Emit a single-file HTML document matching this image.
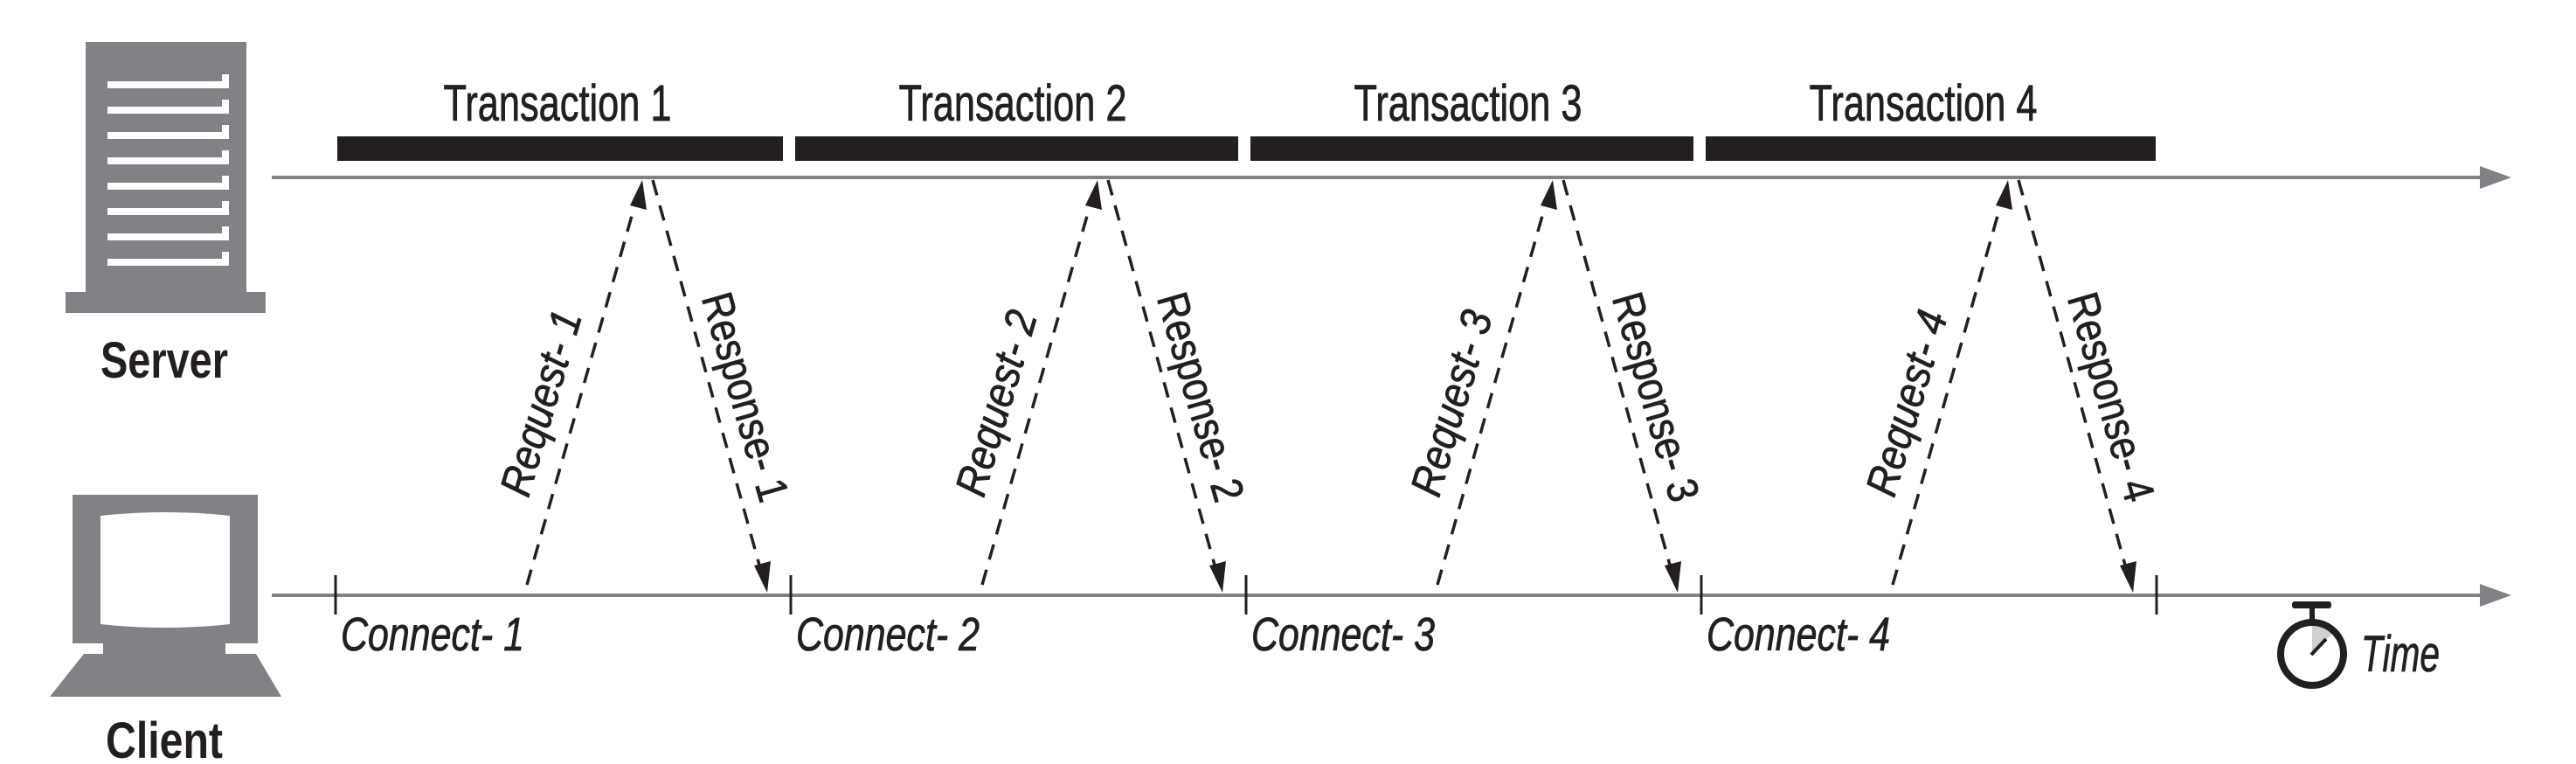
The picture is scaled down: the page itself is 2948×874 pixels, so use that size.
<!DOCTYPE html>
<html><head><meta charset="utf-8"><style>
html,body{margin:0;padding:0;background:#fff;}
svg{display:block}
text{font-family:"Liberation Sans Narrow","Liberation Sans",sans-serif;fill:#231f20}
.w{stroke:#231f20;stroke-width:0.8}
</style></head><body>
<svg width="2948" height="874" viewBox="0 0 2948 874" xmlns="http://www.w3.org/2000/svg">
<!-- Server icon -->
<rect x="98" y="48" width="184" height="288" fill="#808285"/>
<rect x="75" y="334" width="229" height="24" fill="#808285"/>
<g stroke="#fff" stroke-width="8" fill="none">
<polyline points="123,97 258,97 258,85"/>
<polyline points="123,126 258,126 258,114"/>
<polyline points="123,155 258,155 258,143"/>
<polyline points="123,184 258,184 258,172"/>
<polyline points="123,213 258,213 258,201"/>
<polyline points="123,242 258,242 258,230"/>
<polyline points="123,271 258,271 258,259"/>
<polyline points="123,300 258,300 258,288"/>
</g>
<text x="188" y="432" text-anchor="middle" font-size="58" font-weight="bold" textLength="146" lengthAdjust="spacingAndGlyphs">Server</text>
<!-- Client icon -->
<rect x="83" y="566" width="212" height="170" fill="#808285"/>
<path d="M115 590 Q189 582 263 590 L263 714 Q189 722 115 714 Z" fill="#fff"/>
<path d="M118 736 L258 736 L258 748 L293 748 L322 797 L57 797 L96 748 L118 748 Z" fill="#808285"/>
<text x="188" y="867" text-anchor="middle" font-size="58" font-weight="bold" textLength="134" lengthAdjust="spacingAndGlyphs">Client</text>
<!-- timelines -->
<line x1="311" y1="203" x2="2840" y2="203" stroke="#808285" stroke-width="4"/>
<polygon points="2838,190 2874,203 2838,216" fill="#808285"/>
<line x1="311" y1="681" x2="2840" y2="681" stroke="#808285" stroke-width="4"/>
<polygon points="2838,668 2874,681 2838,694" fill="#808285"/>
<!-- bars -->
<rect x="386" y="156" width="510" height="28" fill="#231f20"/>
<rect x="910" y="156" width="507" height="28" fill="#231f20"/>
<rect x="1431" y="156" width="507" height="28" fill="#231f20"/>
<rect x="1952" y="156" width="515" height="28" fill="#231f20"/>
<g font-size="58" text-anchor="middle" class="w">
<text class="w" x="638" y="138" textLength="261" lengthAdjust="spacingAndGlyphs">Transaction 1</text>
<text class="w" x="1159" y="138" textLength="261" lengthAdjust="spacingAndGlyphs">Transaction 2</text>
<text class="w" x="1680" y="138" textLength="261" lengthAdjust="spacingAndGlyphs">Transaction 3</text>
<text class="w" x="2201" y="138" textLength="261" lengthAdjust="spacingAndGlyphs">Transaction 4</text>
</g>
<!-- ticks -->
<g stroke="#231f20" stroke-width="3">
<line x1="384" y1="658" x2="384" y2="703"/>
<line x1="905" y1="658" x2="905" y2="703"/>
<line x1="1426" y1="658" x2="1426" y2="703"/>
<line x1="1947" y1="658" x2="1947" y2="703"/>
<line x1="2468" y1="658" x2="2468" y2="703"/>
</g>
<g font-size="54" font-style="italic">
<text class="w" x="390" y="744" textLength="210" lengthAdjust="spacingAndGlyphs">Connect- 1</text>
<text class="w" x="911" y="744" textLength="210" lengthAdjust="spacingAndGlyphs">Connect- 2</text>
<text class="w" x="1432" y="744" textLength="210" lengthAdjust="spacingAndGlyphs">Connect- 3</text>
<text class="w" x="1953" y="744" textLength="210" lengthAdjust="spacingAndGlyphs">Connect- 4</text>
</g>
<!-- transactions arrows -->
<g>
<line x1="603" y1="669" x2="727" y2="233" stroke="#231f20" stroke-width="3.5" stroke-dasharray="18,12"/>
<polygon points="735,206 740,240 721,235" fill="#231f20"/>
<line x1="747" y1="206" x2="870" y2="650" stroke="#231f20" stroke-width="3.5" stroke-dasharray="18,12"/>
<polygon points="878,678 863,647 882,642" fill="#231f20"/>
<text class="w" transform="translate(622,462) rotate(-73.6)" x="0" y="14" text-anchor="middle" font-size="50" font-style="italic" textLength="218" lengthAdjust="spacingAndGlyphs">Request- 1</text>
<text class="w" transform="translate(850,455) rotate(74)" x="0" y="14" text-anchor="middle" font-size="50" textLength="246" lengthAdjust="spacingAndGlyphs">Response- 1</text>
</g>
<g transform="translate(521,0)">
<line x1="603" y1="669" x2="727" y2="233" stroke="#231f20" stroke-width="3.5" stroke-dasharray="18,12"/>
<polygon points="735,206 740,240 721,235" fill="#231f20"/>
<line x1="747" y1="206" x2="870" y2="650" stroke="#231f20" stroke-width="3.5" stroke-dasharray="18,12"/>
<polygon points="878,678 863,647 882,642" fill="#231f20"/>
<text class="w" transform="translate(622,462) rotate(-73.6)" x="0" y="14" text-anchor="middle" font-size="50" font-style="italic" textLength="218" lengthAdjust="spacingAndGlyphs">Request- 2</text>
<text class="w" transform="translate(850,455) rotate(74)" x="0" y="14" text-anchor="middle" font-size="50" textLength="246" lengthAdjust="spacingAndGlyphs">Response- 2</text>
</g>
<g transform="translate(1042,0)">
<line x1="603" y1="669" x2="727" y2="233" stroke="#231f20" stroke-width="3.5" stroke-dasharray="18,12"/>
<polygon points="735,206 740,240 721,235" fill="#231f20"/>
<line x1="747" y1="206" x2="870" y2="650" stroke="#231f20" stroke-width="3.5" stroke-dasharray="18,12"/>
<polygon points="878,678 863,647 882,642" fill="#231f20"/>
<text class="w" transform="translate(622,462) rotate(-73.6)" x="0" y="14" text-anchor="middle" font-size="50" font-style="italic" textLength="218" lengthAdjust="spacingAndGlyphs">Request- 3</text>
<text class="w" transform="translate(850,455) rotate(74)" x="0" y="14" text-anchor="middle" font-size="50" textLength="246" lengthAdjust="spacingAndGlyphs">Response- 3</text>
</g>
<g transform="translate(1563,0)">
<line x1="603" y1="669" x2="727" y2="233" stroke="#231f20" stroke-width="3.5" stroke-dasharray="18,12"/>
<polygon points="735,206 740,240 721,235" fill="#231f20"/>
<line x1="747" y1="206" x2="870" y2="650" stroke="#231f20" stroke-width="3.5" stroke-dasharray="18,12"/>
<polygon points="878,678 863,647 882,642" fill="#231f20"/>
<text class="w" transform="translate(622,462) rotate(-73.6)" x="0" y="14" text-anchor="middle" font-size="50" font-style="italic" textLength="218" lengthAdjust="spacingAndGlyphs">Request- 4</text>
<text class="w" transform="translate(850,455) rotate(74)" x="0" y="14" text-anchor="middle" font-size="50" textLength="246" lengthAdjust="spacingAndGlyphs">Response- 4</text>
</g>
<!-- stopwatch -->
<path d="M2646 748 L2646 712 A36 36 0 0 1 2672 722 Z" fill="#d0d0d0"/>
<circle cx="2646" cy="748" r="36" fill="none" stroke="#231f20" stroke-width="8"/>
<rect x="2623" y="688" width="45" height="8" rx="3" fill="#231f20"/>
<rect x="2643" y="694" width="6" height="16" fill="#231f20"/>
<line x1="2645" y1="749" x2="2662" y2="731" stroke="#231f20" stroke-width="4"/>
<text class="w" x="2702" y="768" font-size="58" font-style="italic" textLength="90" lengthAdjust="spacingAndGlyphs">Time</text>
</svg>
</body></html>
